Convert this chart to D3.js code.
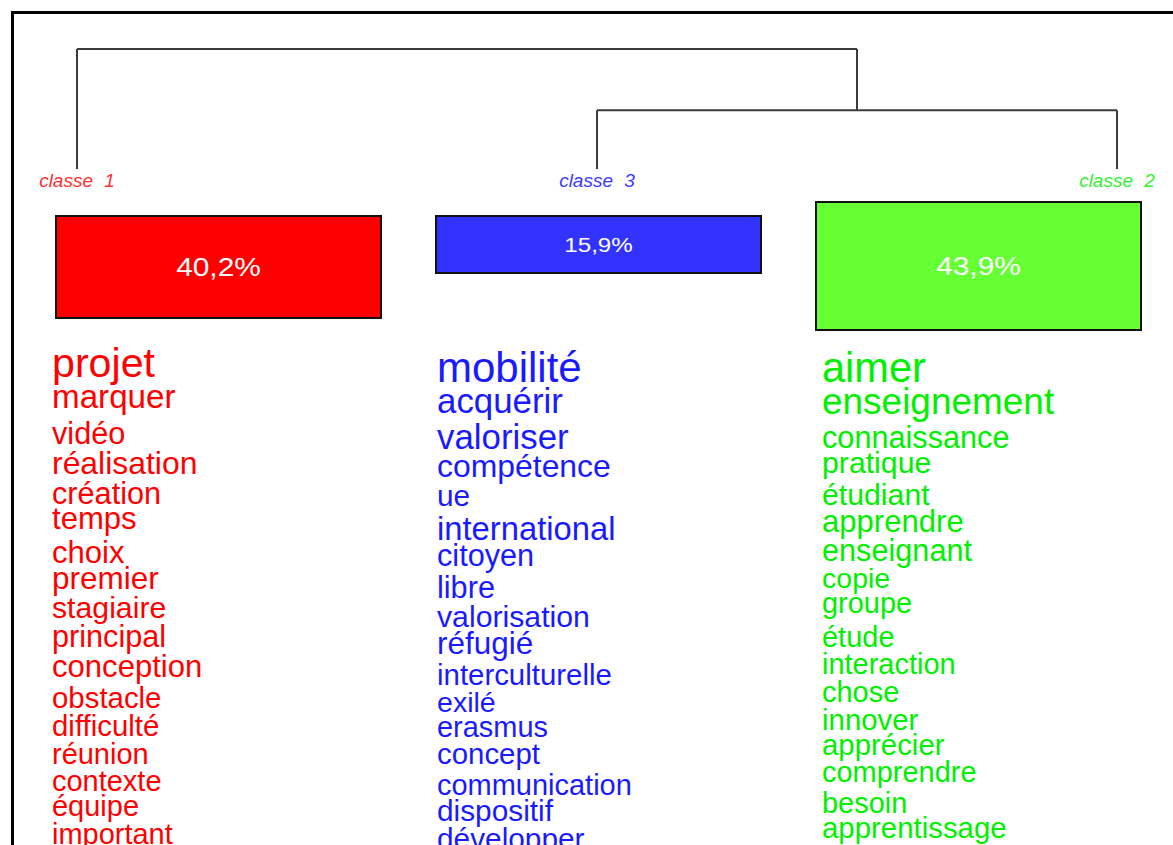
<!DOCTYPE html>
<html>
<head>
<meta charset="utf-8">
<script src="https://cdn.jsdelivr.net/npm/d3@7"></script>
<style>
  html, body { margin: 0; padding: 0; background: #ffffff; overflow: hidden; }
  svg { display: block; }
</style>
</head>
<body>
<svg id="chart" width="1173" height="845"></svg>
<script>
// ---------------- DATA ----------------
// Class order along the dendrogram (left to right)
const leafOrder = ["classe 1", "classe 3", "classe 2"];
// Share of text segments per class (%)
const classPct = [40.2, 15.9, 43.9];
const pctLabels = ["40,2%", "15,9%", "43,9%"];
// Dendrogram merge heights (relative): (classe 3 + classe 2), then root
const mergeHeights = [0.49, 1.0];

// Words per class with estimated chi² weight
const words1 = ["projet","marquer","vidéo","réalisation","création","temps","choix","premier","stagiaire","principal","conception","obstacle","difficulté","réunion","contexte","équipe","important"];
const chi1   = [98, 79, 73, 76, 73, 74, 74, 75, 72, 73, 74, 70, 70, 69, 69, 69, 69];

const words3 = ["mobilité","acquérir","valoriser","compétence","ue","international","citoyen","libre","valorisation","réfugié","interculturelle","exilé","erasmus","concept","communication","dispositif","développer"];
const chi3   = [100, 83, 83, 76, 71, 78, 73, 73, 72, 75, 70, 68, 69, 70, 69, 71, 71];

const words2 = ["aimer","enseignement","connaissance","pratique","étudiant","apprendre","enseignant","copie","groupe","étude","interaction","chose","innover","apprécier","comprendre","besoin","apprentissage"];
const chi2   = [99, 88, 73, 72, 72, 74, 73, 68, 69, 69, 69, 69, 70, 70, 69, 69, 70];

// ---------------- STYLE / LAYOUT ----------------
const classColor = { "classe 1": "#ff0000", "classe 3": "#1a1aff", "classe 2": "#00f000" };
const boxFill    = { "classe 1": "#ff0000", "classe 3": "#3333ff", "classe 2": "#66ff33" };
const labelColor = { "classe 1": "#ff3030", "classe 3": "#3a3aff", "classe 2": "#33f033" };
const wordFont = "'Liberation Sans', Arial, sans-serif";

const svg = d3.select("#chart");

// Frame
svg.append("rect")
  .attr("x", 12.5).attr("y", 12.5)
  .attr("width", 1400).attr("height", 1000)
  .attr("fill", "none").attr("stroke", "#000").attr("stroke-width", 3);

// ---------------- DENDROGRAM ----------------
const treeData = {
  name: "root", h: mergeHeights[1], children: [
    { name: leafOrder[0], h: 0 },
    { name: "n1", h: mergeHeights[0], children: [
      { name: leafOrder[1], h: 0 },
      { name: leafOrder[2], h: 0 }
    ]}
  ]
};
const root = d3.hierarchy(treeData);
const xLeaf = d3.scalePoint().domain(leafOrder).range([77, 1117]);
const yH = d3.scaleLinear().domain([0, d3.max(mergeHeights)]).range([169, 49]);

root.eachAfter(n => {
  n.px = n.children ? d3.mean(n.children, c => c.px) : xLeaf(n.data.name);
  n.py = yH(n.data.h);
});

const dendro = svg.append("g")
  .attr("fill", "none").attr("stroke", "#3c3c3c").attr("stroke-width", 2);
root.descendants().filter(n => n.children).forEach(n => {
  const xs = n.children.map(c => c.px);
  dendro.append("path").attr("d", `M${d3.min(xs)},${n.py}H${d3.max(xs)}`);
  n.children.forEach(c => {
    dendro.append("path").attr("d", `M${c.px},${n.py}V${c.py}`);
  });
});

// Class labels under leaves
svg.append("g").selectAll("text")
  .data(root.leaves())
  .join("text")
  .attr("x", d => d.px)
  .attr("y", d => d.py + 18)
  .attr("text-anchor", "middle")
  .attr("font-family", wordFont)
  .attr("font-style", "italic")
  .attr("font-size", 19)
  .style("word-spacing", "6px")
  .attr("fill", d => labelColor[d.data.name])
  .text(d => d.data.name);

// ---------------- BOXES ----------------
const boxes = leafOrder.map((c, i) => ({ cls: c, pct: classPct[i], label: pctLabels[i] }));
const xBand = d3.scaleBand().domain(leafOrder).range([56, 1141]).paddingInner(55 / 380).paddingOuter(0);
const pSorted = d3.sort(classPct);
const boxH = d3.scaleLinear().domain(pSorted).range([57, 102, 128]);
const boxTop = d3.scaleLinear().domain(pSorted).range([216, 216, 202]);
const labelSize = d3.scaleLinear().domain([pSorted[0], pSorted[1]]).range([21, 26]).clamp(true);

const gBox = svg.append("g");
gBox.selectAll("rect")
  .data(boxes)
  .join("rect")
  .attr("x", d => xBand(d.cls))
  .attr("y", d => boxTop(d.pct))
  .attr("width", xBand.bandwidth())
  .attr("height", d => boxH(d.pct))
  .attr("fill", d => boxFill[d.cls])
  .attr("stroke", "#111")
  .attr("stroke-width", 2);

gBox.selectAll("text")
  .data(boxes)
  .join("text")
  .attr("transform", d => {
    const cx = xBand(d.cls) + xBand.bandwidth() / 2;
    const cy = boxTop(d.pct) + boxH(d.pct) / 2;
    const fs = labelSize(d.pct);
    return `translate(${cx},${cy + 0.36 * fs}) scale(1.15,1)`;
  })
  .attr("text-anchor", "middle")
  .attr("font-family", wordFont)
  .attr("font-size", d => labelSize(d.pct))
  .attr("fill", "#ffffff")
  .text(d => d.label);

// ---------------- WORD LISTS ----------------
const fontScale = d3.scaleLinear().domain([0, 100]).range([0, 42]);
const xWords = d3.scalePoint().domain(leafOrder).range([52, 822]);

function inkTop(w) {
  if (/[bdfhklàâéèêëîïôûù]/.test(w)) return 0.73;
  if (/[ij]/.test(w)) return 0.716;
  if (/t/.test(w)) return 0.67;
  return 0.519;
}
function inkDesc(w) { return /[gjpqyç]/.test(w) ? 0.21 : 0; }

const columns = [
  { cls: "classe 1", words: words1, chi: chi1 },
  { cls: "classe 3", words: words3, chi: chi3 },
  { cls: "classe 2", words: words2, chi: chi2 }
];

const firstCenter = 367, lineFactor = 0.952;
columns.forEach(col => {
  const rows = col.words.map((w, i) => ({ w, fs: fontScale(col.chi[i]) }));
  let c = firstCenter;
  rows.forEach((r, i) => {
    if (i > 0) c += lineFactor * (rows[i - 1].fs + r.fs) / 2;
    r.center = c;
    r.baseline = c + (inkTop(r.w) - inkDesc(r.w)) * r.fs / 2;
  });
  svg.append("g").selectAll("text")
    .data(rows)
    .join("text")
    .attr("x", xWords(col.cls))
    .attr("y", d => d.baseline)
    .attr("font-family", wordFont)
    .attr("font-size", d => d.fs)
    .attr("fill", classColor[col.cls])
    .text(d => d.w);
});
</script>
</body>
</html>
